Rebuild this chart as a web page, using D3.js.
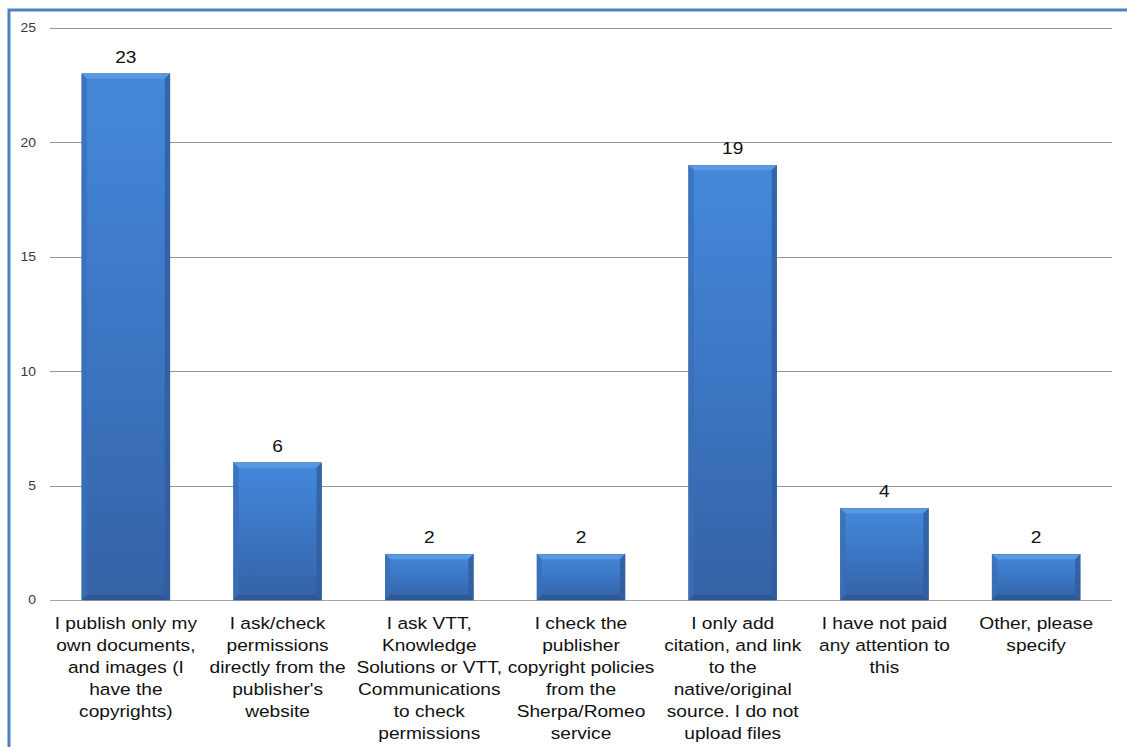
<!DOCTYPE html>
<html>
<head>
<meta charset="utf-8">
<script src="https://cdn.jsdelivr.net/npm/d3@7"></script>
<style>
  body { margin: 0; background: #fff; }
  svg { display: block; font-family: "Liberation Sans", Arial, sans-serif; }
</style>
</head>
<body>
<svg id="chart" width="1127" height="747"></svg>
<script>
// data
const categories = [
    ["I publish only my", "own documents,", "and images (I", "have the", "copyrights)"],
    ["I ask/check", "permissions", "directly from the", "publisher's", "website"],
    ["I ask VTT,", "Knowledge", "Solutions or VTT,", "Communications", "to check", "permissions"],
    ["I check the", "publisher", "copyright policies", "from the", "Sherpa/Romeo", "service"],
    ["I only add", "citation, and link", "to the", "native/original", "source. I do not", "upload files"],
    ["I have not paid", "any attention to", "this"],
    ["Other, please", "specify"]
];
const values = [23, 6, 2, 2, 19, 4, 2];
const yTicks = [0, 5, 10, 15, 20, 25];

const svg = d3.select("#chart");
const margin = {top: 28, right: 15, bottom: 147, left: 50};
const width = 1127, height = 747;
const stretch = 1.16; // the original picture is a bit wider than tall

// blue frame (right/bottom run off the picture)
svg.append("rect")
    .attr("x", 9).attr("y", 10)
    .attr("width", width + 20).attr("height", height + 20)
    .attr("fill", "none")
    .attr("stroke", "#4f81bd")
    .attr("stroke-width", 3);

const x = d3.scaleBand()
    .domain(d3.range(values.length))
    .range([margin.left, width - margin.right])
    .paddingInner(0.42)
    .paddingOuter(0.21);

const y = d3.scaleLinear()
    .domain([0, 25])
    .range([height - margin.bottom, margin.top]);

// gradient for bars
const defs = svg.append("defs");
const grad = defs.append("linearGradient")
    .attr("id", "barGrad")
    .attr("x1", 0).attr("y1", 0).attr("x2", 0).attr("y2", 1);
grad.append("stop").attr("offset", "0%").attr("stop-color", "#4488da");
grad.append("stop").attr("offset", "45%").attr("stop-color", "#3d78c6");
grad.append("stop").attr("offset", "100%").attr("stop-color", "#3462a5");

// gridlines
svg.append("g")
    .selectAll("line")
    .data(yTicks)
    .join("line")
    .attr("x1", margin.left)
    .attr("x2", width - margin.right)
    .attr("y1", d => Math.round(y(d)) + 0.5)
    .attr("y2", d => Math.round(y(d)) + 0.5)
    .attr("stroke", d => d === 0 ? "#a6a6a6" : "#969696")
    .attr("stroke-width", 1);

// y tick labels
const yAxis = d3.axisLeft(y).tickValues(yTicks).tickSize(0).tickPadding(0);
svg.append("g")
    .attr("transform", `translate(${margin.left - 14},0)`)
    .call(yAxis)
    .call(g => g.select(".domain").remove())
    .call(g => g.selectAll("text")
        .attr("font-size", 12)
        .attr("fill", "#3a3a3a")
        .attr("transform", `scale(${stretch},1)`)
        .attr("font-family", "Liberation Sans, Arial, sans-serif"));

// bars
const bev = 5;
const bars = svg.append("g")
    .selectAll("g")
    .data(values)
    .join("g")
    .attr("transform", (d, i) => `translate(${x(i)},${y(d)})`);

const bw = x.bandwidth();
bars.append("rect")
    .attr("width", bw)
    .attr("height", d => y(0) - y(d))
    .attr("fill", "url(#barGrad)")
    .attr("stroke", "#2f5b96")
    .attr("stroke-width", 0.6);

// bevel edges
bars.append("polygon")
    .attr("points", `0,0 ${bw},0 ${bw - bev},${bev} ${bev},${bev}`)
    .attr("fill", "#5b9be2")
    .attr("opacity", 0.9);
bars.append("polygon")
    .attr("points", d => `0,0 ${bev},${bev} ${bev},${y(0) - y(d) - bev} 0,${y(0) - y(d)}`)
    .attr("fill", "#3a6fb8")
    .attr("opacity", 0.8);
bars.append("polygon")
    .attr("points", d => `${bw},0 ${bw - bev},${bev} ${bw - bev},${y(0) - y(d) - bev} ${bw},${y(0) - y(d)}`)
    .attr("fill", "#2f5d9e")
    .attr("opacity", 0.8);
bars.append("polygon")
    .attr("points", d => `0,${y(0) - y(d)} ${bev},${y(0) - y(d) - bev} ${bw - bev},${y(0) - y(d) - bev} ${bw},${y(0) - y(d)}`)
    .attr("fill", "#2c5690")
    .attr("opacity", 0.8);

// value labels
svg.append("g")
    .selectAll("text")
    .data(values)
    .join("text")
    .attr("transform", (d, i) => `translate(${x(i) + bw / 2},${y(d) - 11}) scale(${stretch},1)`)
    .attr("text-anchor", "middle")
    .attr("font-size", 16.5)
    .attr("fill", "#111")
    .text(d => d);

// category labels
const catG = svg.append("g")
    .selectAll("text")
    .data(categories)
    .join("text")
    .attr("transform", (d, i) => `translate(${x(i) + bw / 2},${y(0) + 29}) scale(${stretch},1)`)
    .attr("text-anchor", "middle")
    .attr("font-size", 16.5)
    .attr("fill", "#111");
catG.selectAll("tspan")
    .data(d => d)
    .join("tspan")
    .attr("x", 0)
    .attr("dy", (d, i) => i === 0 ? 0 : 22)
    .text(d => d);
</script>
</body>
</html>
